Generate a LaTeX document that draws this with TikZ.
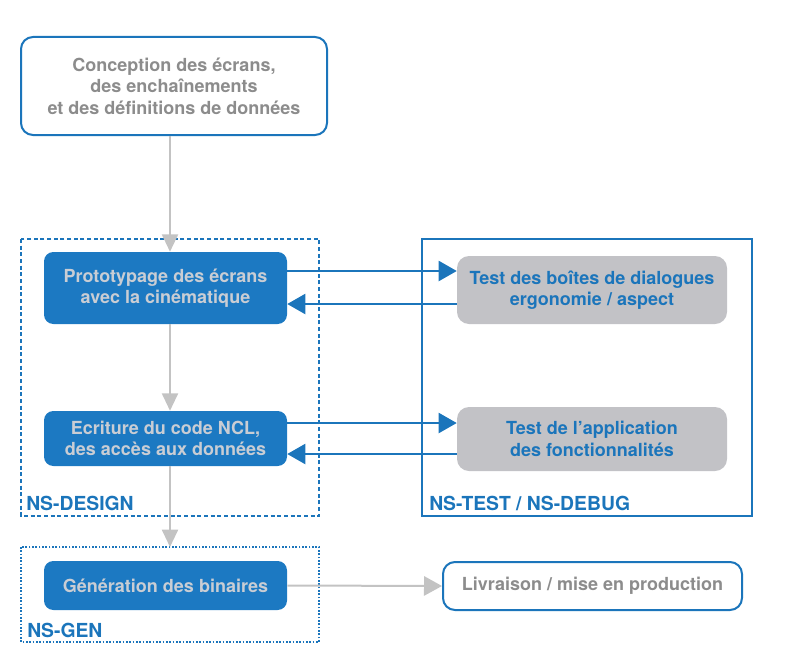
\documentclass[tikz,border=0pt]{standalone}
\usepackage{fontspec}
\setmainfont{TeX Gyre Heros}
\usetikzlibrary{arrows.meta}
\definecolor{bl}{HTML}{1B75BB}
\definecolor{bfill}{HTML}{1C79C2}
\definecolor{gtxt}{HTML}{8C8C8C}
\definecolor{ltxt}{HTML}{C9CDD4}
\definecolor{gfill}{HTML}{C2C2C6}
\definecolor{garr}{HTML}{C3C3C3}
\begin{document}
\begin{tikzpicture}[x=0.75pt,y=-0.75pt,
  every node/.style={font=\bfseries\fontsize{13.5}{16.2}\selectfont, align=center, inner sep=0pt},
  whitebox/.style={draw=bl, line width=1.5pt, fill=white, rounded corners=9pt, text=gtxt},
  bluebox/.style={fill=bfill, rounded corners=7pt, text=ltxt},
  graybox/.style={fill=gfill, rounded corners=9pt, text=bl},
  garrow/.style={draw=garr, line width=1.5pt, -{Triangle[length=13pt,width=12pt]}},
  garrowb/.style={draw=garr, line width=1.5pt, -{Triangle[length=13.5pt,width=14.5pt]}},
  barrow/.style={draw=bl, line width=1.5pt, -{Triangle[length=13.5pt,width=15pt]}},
  lbl/.style={font=\bfseries\fontsize{14.5}{16}\selectfont, text=bl, anchor=base west}
]
\useasboundingbox (0,0) rectangle (798,660);
% frames
\draw[bl, line width=1.3pt, dash pattern=on 3pt off 2pt] (21,239) rectangle (319,516);
\draw[bl, line width=1.3pt] (422,239) rectangle (752,516);
\draw[bl, line width=1.3pt, dash pattern=on 1.2pt off 1.3pt] (21,547) rectangle (319,642);
% nodes
\node[whitebox, minimum width=229.5pt, minimum height=73.5pt] (top) at (174,86)
  {Conception des écrans,\\des enchaînements\\et des définitions de données};
\node[bluebox, minimum width=182.25pt, minimum height=54pt] (proto) at (165.5,288)
  {Prototypage des écrans\\avec la cinématique};
\node[bluebox, minimum width=182.25pt, minimum height=41.25pt] (ecr) at (165.5,438.5)
  {Ecriture du code NCL,\\des accès aux données};
\node[bluebox, minimum width=182.25pt, minimum height=36.75pt] (gen) at (165.5,585.5)
  {Génération des binaires};
\node[whitebox, minimum width=224.25pt, minimum height=36pt] (liv) at (592.5,586)
  {Livraison / mise en production};
\node[graybox, minimum width=202.5pt, minimum height=51pt] (t1) at (592,290)
  {Test des boîtes de dialogues\\ergonomie / aspect};
\node[graybox, minimum width=202.5pt, minimum height=48pt] (t2) at (592,439)
  {Test de l’application\\des fonctionnalités};
% labels
\node[lbl] (l1) at (26,510) {NS-DESIGN};
\node[lbl] (l2) at (429,510) {NS-TEST / NS-DEBUG};
\node[lbl] (l3) at (27,637) {NS-GEN};
% connectors
\coordinate (ax) at (170,0);
\coordinate (genin) at (170,547);
\draw[garrow] (top.south -| ax) -- (proto.north -| ax);
\draw[garrow] (proto.south -| ax) -- (ecr.north -| ax);
\draw[garrow] (ecr.south -| ax) -- (genin);
\draw[garrowb] (gen.east) -- (liv.west);
\coordinate (y1) at (0,271);
\coordinate (y2) at (0,304);
\coordinate (y3) at (0,423);
\coordinate (y4) at (0,454);
\draw[barrow] (proto.east |- y1) -- (t1.west |- y1);
\draw[barrow] (t1.west |- y2) -- (proto.east |- y2);
\draw[barrow] (ecr.east |- y3) -- (t2.west |- y3);
\draw[barrow] (t2.west |- y4) -- (ecr.east |- y4);
\end{tikzpicture}
\end{document}
